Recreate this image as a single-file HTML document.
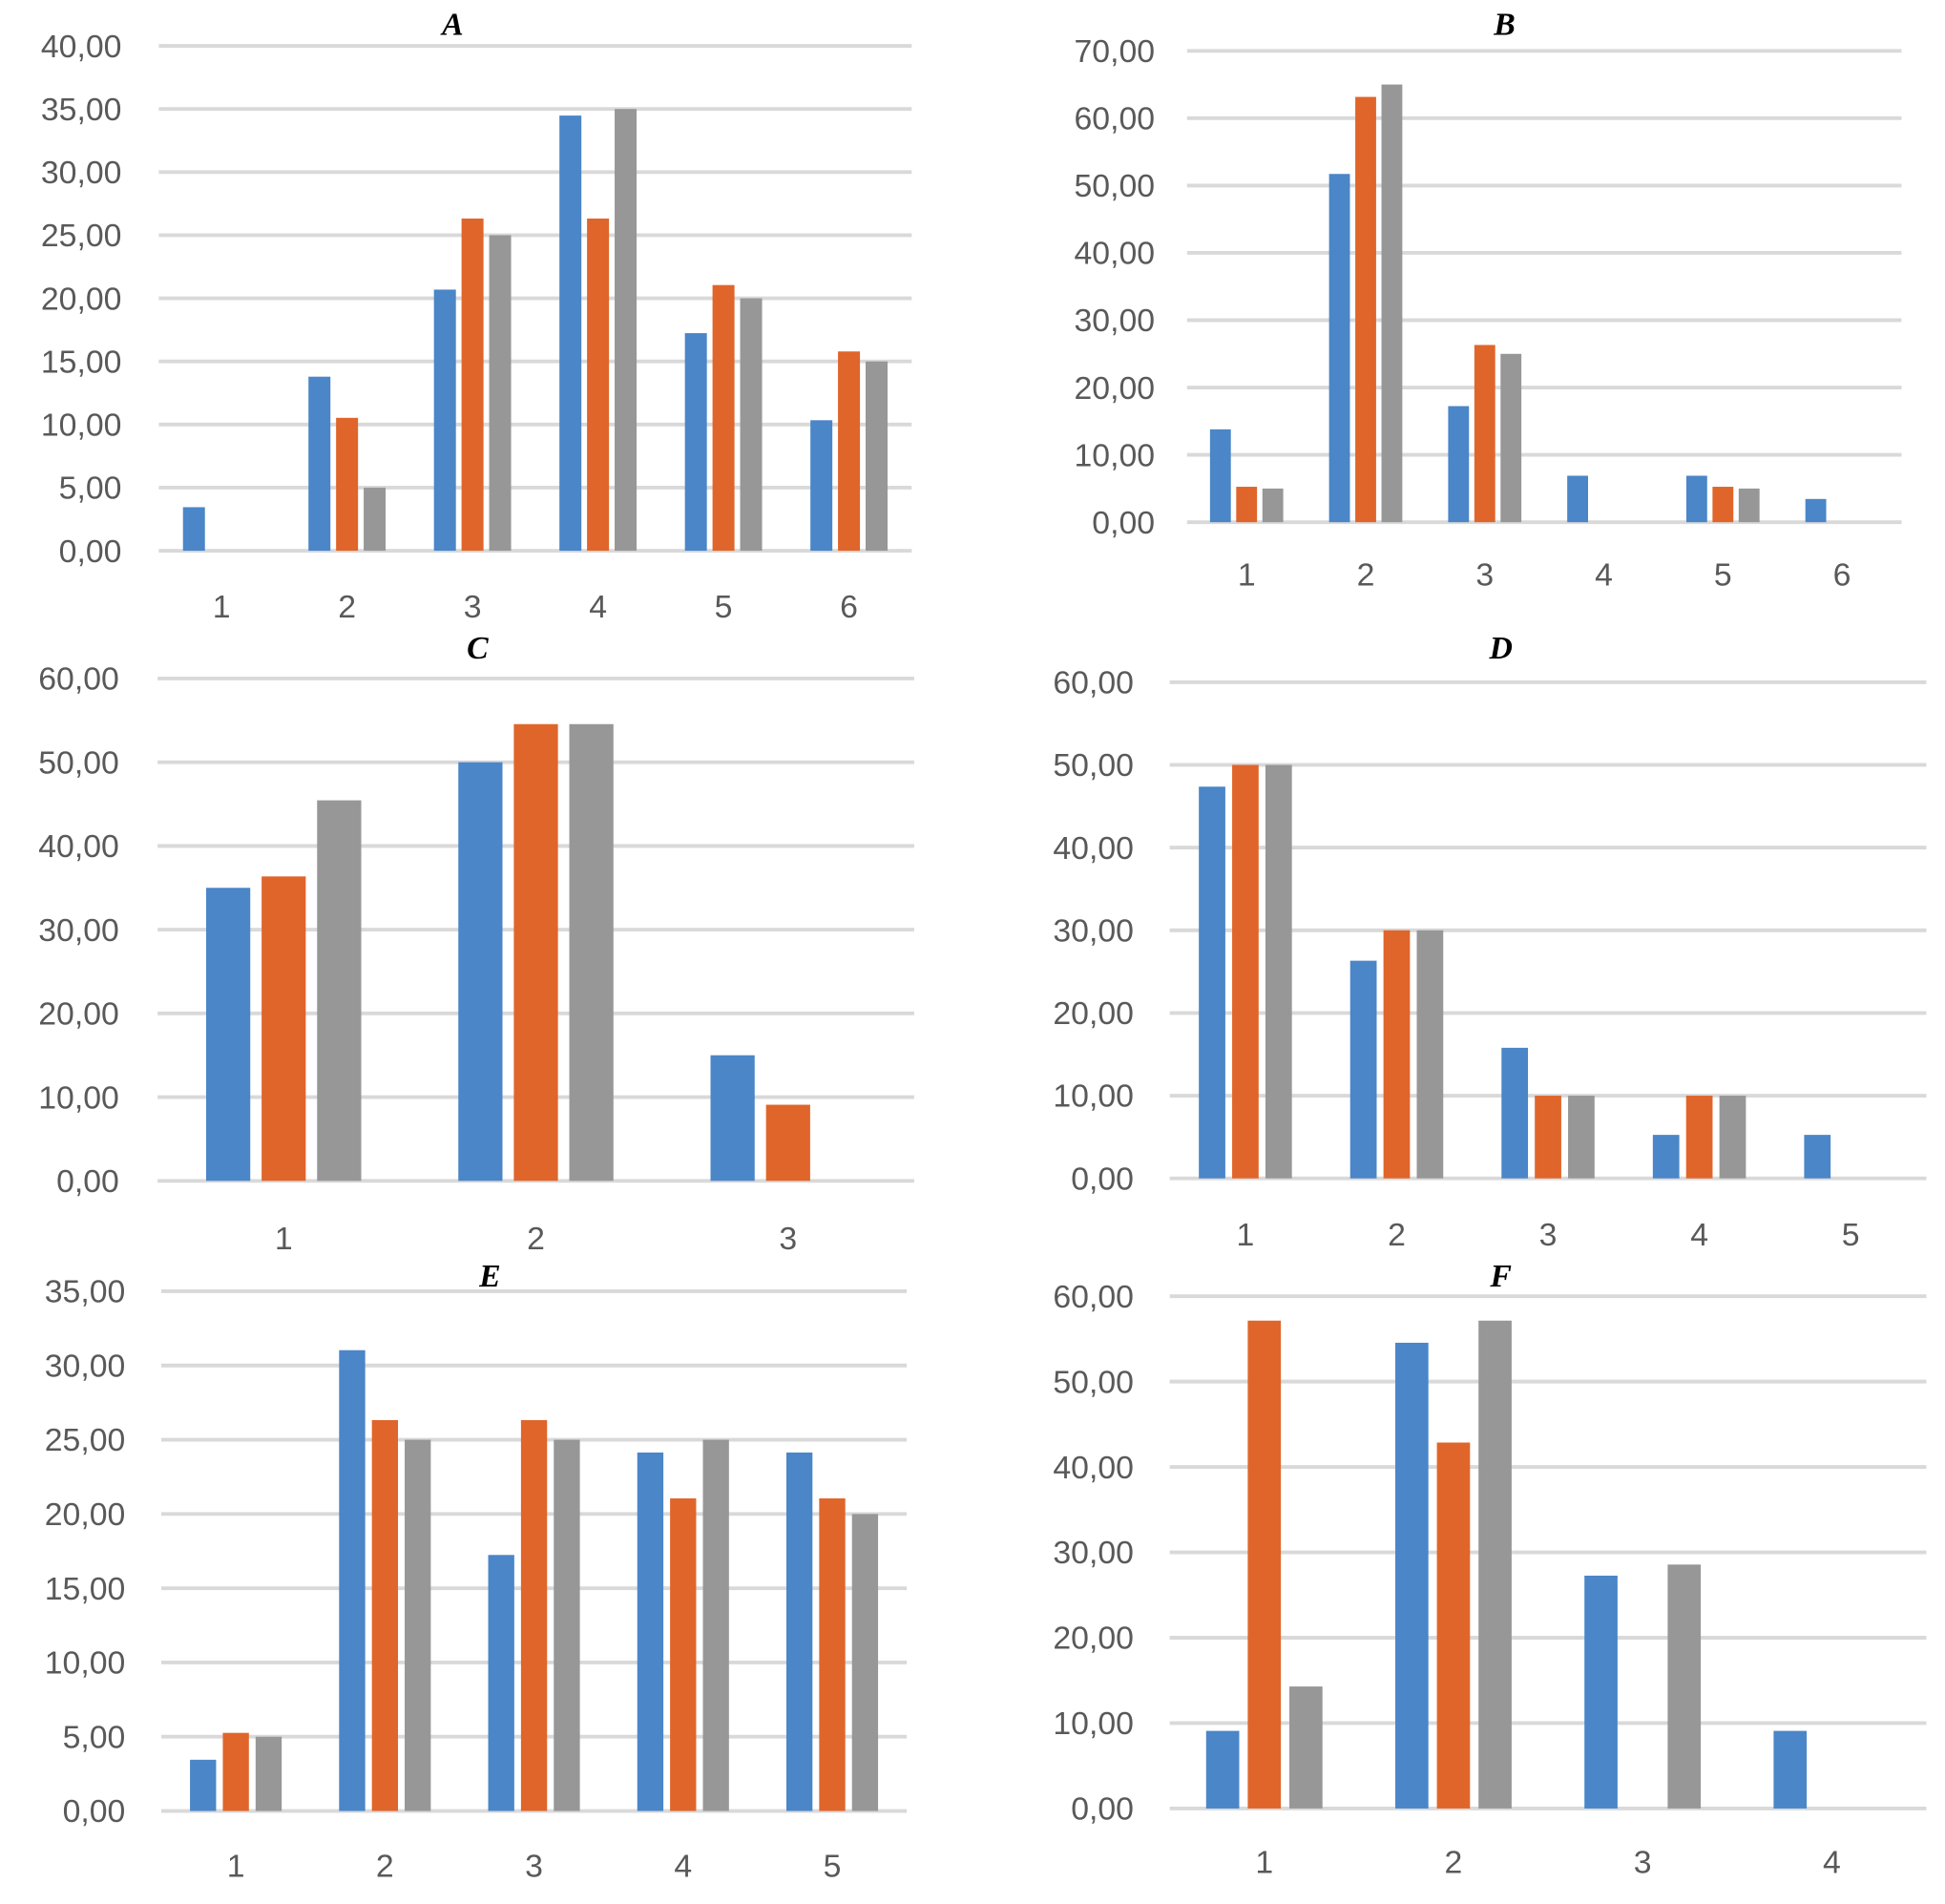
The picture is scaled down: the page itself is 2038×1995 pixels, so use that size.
<!DOCTYPE html>
<html><head><meta charset="utf-8"><style>
html,body{margin:0;padding:0;background:#fff}
svg{display:block}
</style></head><body>
<svg id="chart" width="2038" height="1995" viewBox="0 0 1568 1535" xmlns="http://www.w3.org/2000/svg"></svg>
<script>
const seriesColors = ["#4a86c8", "#e0652a", "#979797"];
const catsA = [1,2,3,4,5,6];
const blueA = [3.45,13.79,20.69,34.48,17.24,10.34];
const orangeA = [0,10.53,26.32,26.32,21.05,15.79];
const grayA = [0,5,25,35,20,15];
const ticksA = [0,5,10,15,20,25,30,35,40];
const catsB = [1,2,3,4,5,6];
const blueB = [13.79,51.72,17.24,6.9,6.9,3.45];
const orangeB = [5.26,63.16,26.32,0,5.26,0];
const grayB = [5,65,25,0,5,0];
const ticksB = [0,10,20,30,40,50,60,70];
const catsC = [1,2,3];
const blueC = [35,50,15];
const orangeC = [36.36,54.55,9.09];
const grayC = [45.45,54.55,0];
const ticksC = [0,10,20,30,40,50,60];
const catsD = [1,2,3,4,5];
const blueD = [47.37,26.32,15.79,5.26,5.26];
const orangeD = [50,30,10,10,0];
const grayD = [50,30,10,10,0];
const ticksD = [0,10,20,30,40,50,60];
const catsE = [1,2,3,4,5];
const blueE = [3.45,31.03,17.24,24.14,24.14];
const orangeE = [5.26,26.32,26.32,21.05,21.05];
const grayE = [5,25,25,25,20];
const ticksE = [0,5,10,15,20,25,30,35];
const catsF = [1,2,3,4];
const blueF = [9.09,54.55,27.27,9.09];
const orangeF = [57.14,42.86,0,0];
const grayF = [14.29,57.14,28.57,0];
const ticksF = [0,10,20,30,40,50,60];

const panels = [
 {t:"A",cats:catsA,s:[blueA,orangeA,grayA],ticks:ticksA,x0:128,x1:735,yTop:37,yBot:444,lblR:98,titleX:365,titleY:28,xlY:498},
 {t:"B",cats:catsB,s:[blueB,orangeB,grayB],ticks:ticksB,x0:957,x1:1533,yTop:41,yBot:421,lblR:931,titleX:1213,titleY:28,xlY:472},
 {t:"C",cats:catsC,s:[blueC,orangeC,grayC],ticks:ticksC,x0:127,x1:737,yTop:547,yBot:952,lblR:96,titleX:385,titleY:531,xlY:1007},
 {t:"D",cats:catsD,s:[blueD,orangeD,grayD],ticks:ticksD,x0:943,x1:1553,yTop:550,yBot:950,lblR:914,titleX:1210,titleY:531,xlY:1004},
 {t:"E",cats:catsE,s:[blueE,orangeE,grayE],ticks:ticksE,x0:130,x1:731,yTop:1041,yBot:1460,lblR:101,titleX:395,titleY:1037,xlY:1513},
 {t:"F",cats:catsF,s:[blueF,orangeF,grayF],ticks:ticksF,x0:943,x1:1553,yTop:1045,yBot:1458,lblR:914,titleX:1210,titleY:1037,xlY:1510}
];
const NS="http://www.w3.org/2000/svg";
const svg=document.getElementById("chart");
function mk(tag,attrs,parent){const e=document.createElementNS(NS,tag);for(const k in attrs)e.setAttribute(k,attrs[k]);parent.appendChild(e);return e;}
panels.forEach(p=>{
  const g=mk("g",{},svg);
  
  
  const maxT=p.ticks[p.ticks.length-1];
  const yS=v=>p.yBot-(v/maxT)*(p.yBot-p.yTop);
  const sp=(p.x1-p.x0)/p.cats.length;
  const xC=i=>p.x0+sp*(i+0.5);
  p.ticks.forEach(t=>{
    const ln=mk("line",{x1:p.x0,x2:p.x1,y1:yS(t),y2:yS(t),stroke:"#d9d9d9","stroke-width":3},g);
    
    
    const tx=mk("text",{x:p.lblR,y:yS(t)+9,"text-anchor":"end","font-family":"Liberation Sans, sans-serif","font-size":26,fill:"#595959"},g);
    tx.textContent=t.toFixed(2).replace(".",",");
    
    
  });
  const bw=sp*0.175, gap=sp*0.045;
  p.s.forEach((arr,si)=>{
    arr.forEach((v,i)=>{
      if(v<=0)return;
      const cx=xC(i)+(si-1)*(bw+gap);
      const r=mk("rect",{x:cx-bw/2,y:yS(v),width:bw,height:yS(0)-yS(v),fill:seriesColors[si]},g);
      
      
    });
  });
  p.cats.forEach((c,i)=>{
    const tx=mk("text",{x:xC(i),y:p.xlY,"text-anchor":"middle","font-family":"Liberation Sans, sans-serif","font-size":26,fill:"#595959"},g);
    tx.textContent=c;
    
    
  });
  const ti=mk("text",{x:p.titleX,y:p.titleY,"text-anchor":"middle","font-family":"Liberation Serif, serif","font-size":26,"font-style":"italic","font-weight":"bold",fill:"#000"},g);
  ti.textContent=p.t;
  
  
});
</script>
</body></html>
